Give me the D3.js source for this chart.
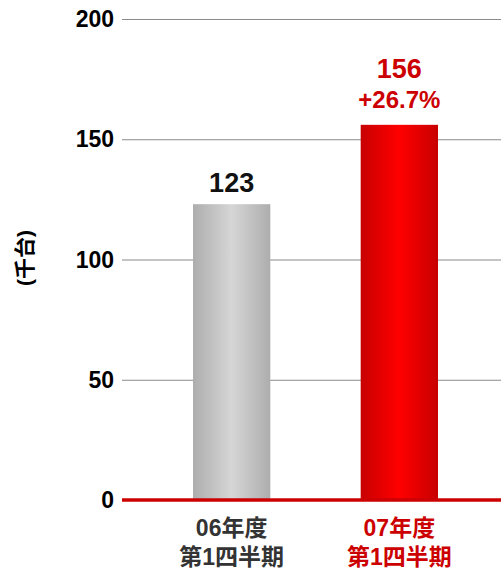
<!DOCTYPE html>
<html>
<head>
<meta charset="utf-8">
<script src="https://cdn.jsdelivr.net/npm/d3@7"></script>
<style>
  body { margin: 0; background: #fff; }
  text { font-family: "Liberation Sans", "Noto Sans CJK JP", sans-serif; font-weight: bold; }
</style>
</head>
<body>
<svg width="501" height="572"></svg>
<script>
const periods = ['06年度', '07年度'];
const subLabels = ['第1四半期', '第1四半期'];
const values = [123, 156];
const growth = ['', '+26.7%'];
const yTicks = [0, 50, 100, 150, 200];

const svg = d3.select('svg');
const defs = svg.append('defs');

function grad(id, edge, mid) {
  const g = defs.append('linearGradient').attr('id', id)
    .attr('x1', '0%').attr('x2', '100%').attr('y1', '0%').attr('y2', '0%');
  g.append('stop').attr('offset', '0%').attr('stop-color', edge);
  g.append('stop').attr('offset', '50%').attr('stop-color', mid);
  g.append('stop').attr('offset', '100%').attr('stop-color', edge);
}
grad('gGrey', '#adadad', '#d6d6d6');
grad('gRed', '#c80000', '#ff0000');

const y = d3.scaleLinear().domain([0, 200]).range([500, 19]);
const x = d3.scaleBand().domain(periods).range([193, 438]).paddingInner(0.539).paddingOuter(0);

// gridlines
svg.append('g').selectAll('line').data(yTicks.filter(d => d > 0))
  .enter().append('line')
    .attr('x1', 122).attr('x2', 501)
    .attr('y1', d => y(d) + 0.5).attr('y2', d => y(d) + 0.5)
    .attr('stroke', '#8a8a8a').attr('stroke-width', 1.2);

// tick labels
svg.append('g').selectAll('text').data(yTicks)
  .enter().append('text')
    .attr('x', 114).attr('y', d => y(d) + 8)
    .attr('text-anchor', 'end')
    .attr('font-size', 23)
    .text(d => d);

// axis title
svg.append('text')
  .attr('transform', 'translate(32,258) rotate(-90)')
  .attr('text-anchor', 'middle')
  .attr('font-family', '"Noto Sans CJK JP", sans-serif')
  .attr('font-size', 21)
  .text('(千台)');

// bars
svg.append('g').selectAll('rect').data(values)
  .enter().append('rect')
    .attr('x', (d, i) => x(periods[i]))
    .attr('width', x.bandwidth())
    .attr('y', d => y(d))
    .attr('height', d => y(0) - y(d))
    .attr('fill', (d, i) => i === 0 ? 'url(#gGrey)' : 'url(#gRed)');

// baseline
svg.append('line')
  .attr('x1', 122).attr('x2', 501)
  .attr('y1', y(0)).attr('y2', y(0))
  .attr('stroke', '#cc0000').attr('stroke-width', 3.5);

const colors = ['#111', '#cc0000'];
const labColors = ['#333', '#cc0000'];

// value labels
svg.append('g').selectAll('text').data(values)
  .enter().append('text')
    .attr('x', (d, i) => x(periods[i]) + x.bandwidth() / 2)
    .attr('y', (d, i) => i === 0 ? y(d) - 12 : y(d) - 47)
    .attr('text-anchor', 'middle')
    .attr('font-size', 27)
    .attr('fill', (d, i) => colors[i])
    .text(d => d);

svg.append('g').selectAll('text').data(growth)
  .enter().append('text')
    .attr('x', (d, i) => x(periods[i]) + x.bandwidth() / 2)
    .attr('y', (d, i) => y(values[i]) - 17)
    .attr('text-anchor', 'middle')
    .attr('font-size', 24)
    .attr('fill', '#cc0000')
    .text(d => d);

// category labels
const cat = svg.append('g').selectAll('g').data(periods)
  .enter().append('g');
cat.append('text')
  .attr('x', d => x(d) + x.bandwidth() / 2)
  .attr('y', 536)
  .attr('text-anchor', 'middle')
  .attr('font-size', 23)
  .attr('fill', (d, i) => labColors[i])
  .text(d => d);
cat.append('text')
  .attr('x', d => x(d) + x.bandwidth() / 2)
  .attr('y', 565)
  .attr('text-anchor', 'middle')
  .attr('font-size', 23)
  .attr('fill', (d, i) => labColors[i])
  .text((d, i) => subLabels[i]);
</script>
</body>
</html>
